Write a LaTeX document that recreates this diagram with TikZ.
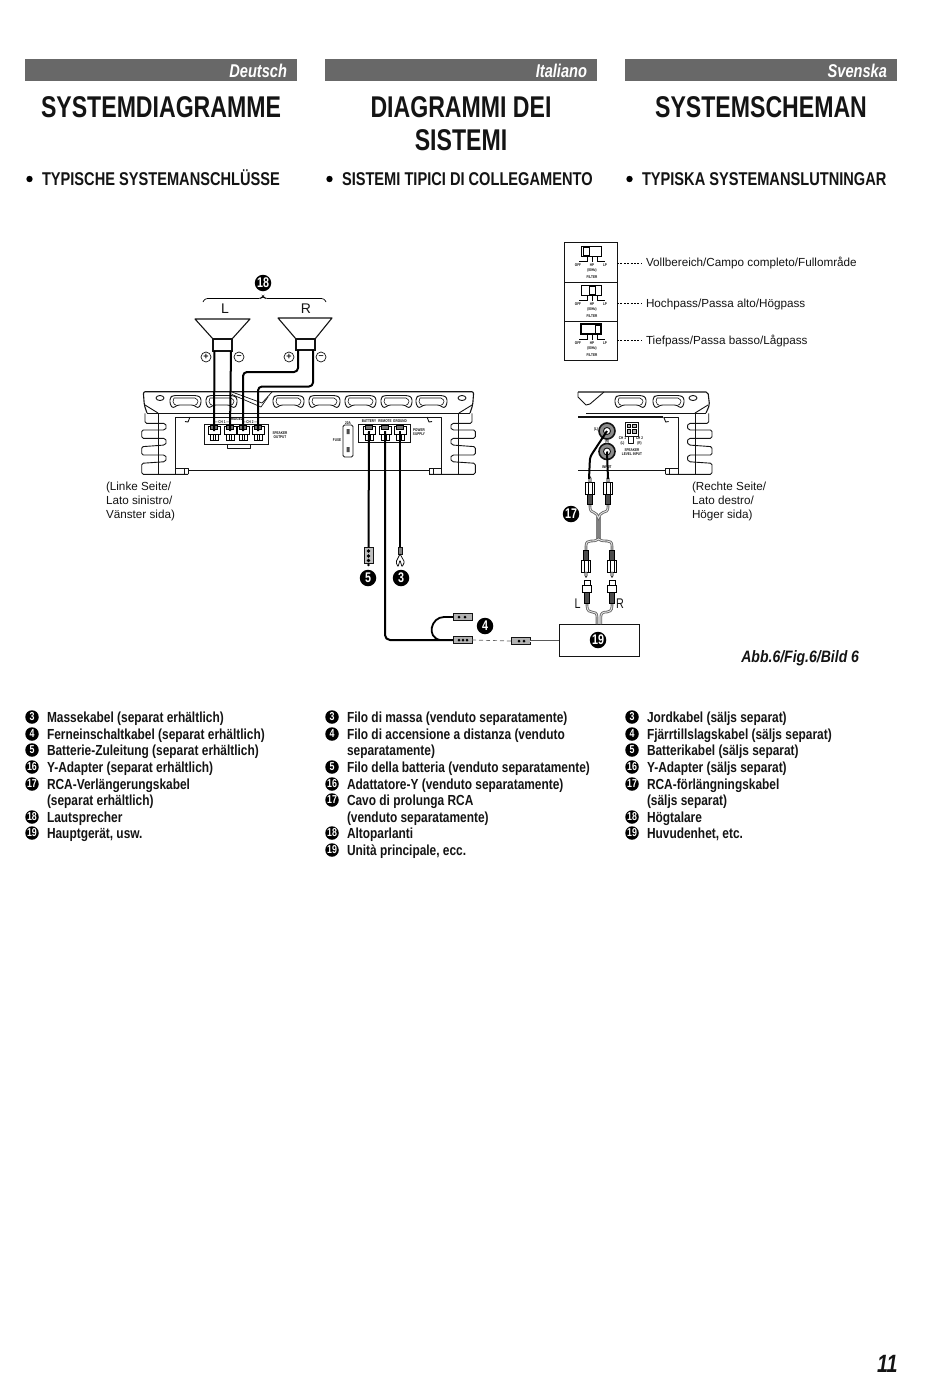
\documentclass[tikz,border=0pt]{standalone}
\usepackage{fontspec}
\setmainfont{Liberation Sans}
\newfontfamily\cond[FakeStretch=0.77]{Liberation Sans}
\newfontfamily\condb[FakeStretch=0.79]{Liberation Sans}
\newfontfamily\condc[FakeStretch=0.816]{Liberation Sans}
\newfontfamily\condd[FakeStretch=0.85]{Liberation Sans}
\usetikzlibrary{calc}
\definecolor{hdr}{RGB}{104,104,104}
\definecolor{ink}{RGB}{20,20,20}
\tikzset{
 x=1pt,y=-1pt,
 every node/.style={inner sep=0pt,outer sep=0pt,text=ink},
 hdrbar/.style={fill=hdr,draw=none,minimum width=272pt,minimum height=22pt},
 hdrtext/.style={text=white,font=\condb\bfseries\itshape\fontsize{18.5}{18.5}\selectfont,anchor=east},
 title/.style={font=\cond\bfseries\fontsize{30}{33}\selectfont,align=center,anchor=north},
 sub/.style={font=\condb\bfseries\fontsize{18.5}{18.5}\selectfont,anchor=base west},
 leg/.style={font=\condc\bfseries\fontsize{14.6}{14.6}\selectfont,anchor=base west},
 lab/.style={font=\fontsize{11.7}{14}\selectfont,anchor=base west,align=left},
 labm/.style={font=\fontsize{11.7}{14}\selectfont,anchor=north west,align=left},
 num/.style={circle,fill=black,minimum size=16.5pt,text=white,font=\cond\bfseries\fontsize{14}{14}\selectfont},
 lnum/.style={circle,fill=black,minimum size=13.5pt,text=white,font=\cond\bfseries\fontsize{11.5}{11.5}\selectfont},
 tiny/.style={font=\cond\bfseries\fontsize{4}{4.4}\selectfont,align=center},
 amp/.style={draw=ink,line width=.9pt,line join=round},
 ampthick/.style={draw=ink,line width=1.6pt},
 cable/.style={draw=black,line width=2pt,line join=round},
 rca/.style={draw=black!60,line width=2.6pt},
 rcaw/.style={draw=white!90!black,line width=.9pt},
 sign/.style={circle,draw=ink,line width=.7pt,minimum size=10pt,font=\fontsize{9}{9}\selectfont\bfseries},
 leader/.style={dash pattern=on 2pt off 1.4pt,line width=.6pt},
 plugA/.pic={
   \draw[fill=black!70,line width=.5pt] (-2.4,0) rectangle (2.4,10);
   \draw[fill=white,line width=.9pt] (-4.2,10) rectangle (4.2,22);
   \draw[line width=.6pt] (-2,10) -- (-2,22) (2,10) -- (2,22);
   \draw[fill=black!25,line width=.5pt] (-1.2,22) -- (-1,26) -- (0,27.5) -- (1,26) -- (1.2,22) -- cycle;
 },
 plugB/.pic={
   \draw[fill=black!70,line width=.5pt] (-2.3,0) rectangle (2.3,11);
   \draw[fill=white,line width=.9pt] (-4.2,11) rectangle (4.2,18);
   \draw[fill=white,line width=.9pt] (-3,18) rectangle (3,23);
 },
 slot/.pic={
   \draw[amp,rounded corners=2.5pt] (0,2) -- (3,0) -- (27,0) -- (31,2) -- (31,9) -- (28,13) -- (24,9.5) -- (7,9.5) -- (3,13) -- (0,9) -- cycle;
   \draw[amp,line width=.6pt,rounded corners=2pt] (4,2.5) -- (27,2.5) -- (28.5,8) -- (25,9.5);
   \draw[amp,line width=.6pt,rounded corners=2pt] (4,2.5) -- (2.5,8) -- (6,9.5);
 },
 sink/.pic={
   \draw[amp,rounded corners=1.5pt] (10,28.3) -- (10,38.3) -- (30,38.3) -- (31.7,41.7) -- (30,45) -- (6.7,45) -- (6.7,53.3) -- (30,53.3) -- (31.7,56.7) -- (30,60) -- (6.7,61.7) -- (6.7,70) -- (30,70) -- (31.7,73.3) -- (30,76.7) -- (6.7,78.3) -- (6.7,89.3) -- (53,89.3);
   \draw[amp] (23.3,28.3) -- (23.3,89.3);
   \draw[amp] (55,32) -- (40.7,32) -- (40.7,89.3);
   \draw[amp] (55,32) -- (53,37) -- (50,36.5);
   \draw[amp] (40.7,83) -- (53,83) -- (53,89.3);
   \draw[amp] (49,83) -- (49,89.3);
 },
 term/.pic={
   \draw[fill=white,line width=.7pt] (-6,0) rectangle (6,8);
   \draw[fill=black!55,line width=.5pt] (-3.5,-1.5) rectangle (3.5,3);
   \draw[fill=white,line width=.7pt] (-4,8) rectangle (4,14);
   \draw[line width=.5pt] (-1,8) -- (-1,14) (1,8) -- (1,14);
 },
 filt/.pic={
   \draw[line width=1pt,fill=white] (0,0) rectangle (20,10);
   \draw[line width=.7pt] (-2,15.5) -- (6,15.5) -- (6,10) (11,10) -- (11,15.5) (16,10) -- (16,15.5) -- (24,15.5);
   \node[tiny] (f1) at (-3,19.5) {OFF};
   \node[tiny] (f2) at (11,19.5) {HP};
   \node[tiny] (f3) at (24,19.5) {LP};
   \node[tiny] (f4) at (11,24.5) {(80Hz)};
   \node[tiny] (f5) at (11,31) {FILTER};
 },
}
\newcommand{\legline}[3]{\node[lnum] (n#1-#2) at ($(#1+7,#2)$) {#3};}
\newcommand{\legtext}[3]{\node[leg] (t#1-#2) at ($(#1+22,#2+5)$) {#3};}
\begin{document}
\begin{tikzpicture}
\useasboundingbox (0,0) rectangle (950,1373);
\fill[white] (0,0) rectangle (950,1373);
% headers
\foreach \c/\h/\n in {25/Deutsch/a,325/Italiano/b,625/Svenska/c}{
  \node[hdrbar,anchor=north west] (bar\n) at (\c,59) {};
  \node[hdrtext] (hd\n) at (\c+262,70.5) {\h};
}
\node[title] (ta) at (161,96.5) {SYSTEMDIAGRAMME};
\node[title] (tb) at (461,96.5) {DIAGRAMMI DEI\\SISTEMI};
\node[title] (tc) at (761,96.5) {SYSTEMSCHEMAN};
\foreach \c/\t/\n in {25/TYPISCHE SYSTEMANSCHLÜSSE/a,325/SISTEMI TIPICI DI COLLEGAMENTO/b,625/TYPISKA SYSTEMANSLUTNINGAR/c}{
  \fill[black] (\c+4.5,179) circle (3.2);
  \node[sub] (sb\n) at (\c+17,185.5) {\t};
}
% filter panels
\node[draw=ink,line width=1pt,minimum width=53pt,minimum height=40pt,anchor=north west] (fa) at (564,242) {};
\node[draw=ink,line width=1pt,minimum width=53pt,minimum height=39pt,anchor=north west] (fb) at (564,282) {};
\node[draw=ink,line width=1pt,minimum width=53pt,minimum height=39pt,anchor=north west] (fc) at (564,321) {};
\pic at (581,246) {filt};
\draw[line width=.8pt] (583,247.5) rectangle (589,255);
\pic at (581,285) {filt};
\draw[line width=.8pt] (589,286.5) rectangle (595,294);
\pic at (581,324) {filt};
\draw[line width=1.3pt] (581,324) rectangle (601,334);
\draw[line width=.8pt] (595,325.5) rectangle (600,333);
\node[lab] (la) at (646,266) {Vollbereich/Campo completo/Fullområde};
\node[lab] (lb) at (646,307) {Hochpass/Passa alto/Högpass};
\node[lab] (lc) at (646,344) {Tiefpass/Passa basso/Lågpass};
\coordinate (lda) at (642,263); \coordinate (ldb) at (642,303); \coordinate (ldc) at (642,340);
\draw[leader] (fa.east |- lda) -- (lda);
\draw[leader] (fb.east |- ldb) -- (ldb);
\draw[leader] (fc.east |- ldc) -- (ldc);
% left amplifier
\draw[amp,line width=1.1pt,rounded corners=2pt] (147,413) -- (144.3,405) -- (143.3,391.7) -- (473.7,391.7) -- (472.7,405) -- (470,413);
\draw[amp] (147,413) -- (470,413);
\draw[amp] (145,405) -- (158,413) (472,405) -- (459,413);
\draw[amp] (190,417) -- (427,417);
\draw[ampthick] (188,470.5) -- (429,470.5);
\pic at (135,385) {sink};
\pic[xscale=-1] at (482,385) {sink};
\draw[amp] (160,398) ellipse (4 and 2.5);
\draw[amp] (462,398) ellipse (4 and 2.5);
\foreach \sx in {170,206,273,309,345,381,416}{\pic at (\sx,395.5) {slot};}
\draw[amp,line width=.7pt] (232,392) -- (262,403) -- (272,392);
\draw[amp,line width=.7pt] (232,394.5) -- (261,407) -- (268,397);
% speaker output block
\node[draw=ink,line width=1pt,minimum width=64pt,minimum height=20pt,anchor=north west] (spkblk) at (204,424) {};
\draw[amp] (227,444) -- (227,448) -- (250,448) -- (250,444);
\foreach \tx/\nm in {214/t1,230/t2,243/t3,258/t4}{\pic at (\tx,426.5) {term}; \coordinate (\nm) at (\tx,431);}
\node[tiny] (so) at (280,435) {SPEAKER\\OUTPUT};
\node[tiny] (c1) at (222,422) {— CH 1 —};
\node[tiny] (c2) at (250,422) {— CH 2 —};
\node[tiny] (br) at (236,419.5) {BRIDGED};
% fuse
\node[draw=ink,line width=.8pt,rounded corners=1.5pt,minimum width=10pt,minimum height=32pt,anchor=north west] (fuse) at (343,425) {};
\fill[black!70] (346.5,429) rectangle (349.5,434) (346.5,447) rectangle (349.5,452);
\node[tiny] (fa20) at (348,423) {20A};
\node[tiny] (fz) at (337,440) {FUSE};
% power block
\node[draw=ink,line width=1pt,minimum width=52pt,minimum height=18pt,anchor=north west] (pwr) at (358,424) {};
\foreach \tx/\nm in {369/p1,385/p2,400/p3}{\pic at (\tx,426.5) {term}; \coordinate (\nm) at (\tx,431);}
\node[tiny] (pb) at (369,421) {BATTERY};
\node[tiny] (pr) at (385,421) {REMOTE};
\node[tiny] (pg) at (400,421) {GROUND};
\node[tiny] (ps) at (419,432) {POWER\\SUPPLY};
% right amplifier
\draw[amp,line width=1.1pt,rounded corners=2pt] (578,392) -- (708,392) -- (709.5,405) -- (706,413);
\draw[amp] (578,392) -- (578,397) -- (586,405) -- (590,404) -- (604,392);
\draw[amp] (586,413) -- (706,413);
\draw[amp] (708,405) -- (695,413);
\draw[ampthick] (578,417) -- (663,417);
\draw[ampthick] (578,470.5) -- (665,470.5);
\pic[xscale=-1] at (718.7,385) {sink};
\draw[amp] (693,398) ellipse (4 and 2.5);
\foreach \sx in {615,653}{\pic at (\sx,395.5) {slot};}
\node[circle,draw=ink,fill=black!45,line width=1.6pt,minimum size=16pt] (j1) at (607,431) {};
\node[circle,draw=ink,fill=white,line width=.9pt,minimum size=7pt] (j1i) at (607,431) {};
\node[circle,draw=ink,fill=black!45,line width=1.6pt,minimum size=16pt] (j2) at (607,451.5) {};
\node[circle,draw=ink,fill=white,line width=.9pt,minimum size=7pt] (j2i) at (607,451.5) {};
\node[draw=ink,line width=1pt,minimum width=13.5pt,minimum height=14pt,anchor=north west] (lvl) at (625,422) {};
\foreach \px in {627,632.5}{\foreach \py in {424,429.5}{\draw[line width=.7pt,fill=black!30] (\px,\py) rectangle +(3.8,3.8);}}
\draw[amp,line width=.6pt] (628,436) rectangle (633.5,443);
\node[tiny] (ci1) at (622.5,441) {CH 1\\(L)};
\node[tiny] (ci2) at (639.5,441) {CH 2\\(R)};
\node[tiny] (sli) at (632,452) {SPEAKER\\LEVEL INPUT};
\node[tiny] (ipt) at (607,467) {INPUT};
\node[tiny] (jl) at (596,429) {(L)};
\node[tiny] (jr) at (607,441.5) {(R)};
% speakers
\draw[amp,line width=1.1pt,fill=white] (195,319) -- (250,319) -- (232,339) -- (213,339) -- cycle;
\node[draw=ink,line width=1.1pt,minimum width=19pt,minimum height=12pt,anchor=north west] (spl) at (213,339) {};
\draw[amp,line width=1.1pt,fill=white] (278,318) -- (332,318) -- (315,339) -- (296,339) -- cycle;
\node[draw=ink,line width=1.1pt,minimum width=19pt,minimum height=11pt,anchor=north west] (spr) at (296,339) {};
\node[font=\fontsize{14}{14}\selectfont] (tl) at (225,309) {L};
\node[font=\fontsize{14}{14}\selectfont] (tr) at (306,309) {R};
\draw[line width=.7pt,rounded corners=2.5pt] (203,302) -- (205,298.5) -- (261,298.5) -- (263,296) -- (265,298.5) -- (324,298.5) -- (326,302);
\node[num] (n18) at (263,283) {18};
\node[sign] (lp) at (206,357) {+};
\node[sign] (lm) at (239,357) {–};
\node[sign] (rp) at (289,357) {+};
\node[sign] (rm) at (321,357) {–};
% speaker cables
\coordinate (spl1) at (214.5,351); \coordinate (spl2) at (231,351);
\coordinate (spr1) at (298,350); \coordinate (spr2) at (313,350);
\draw[cable] (spl1) -- (t1);
\draw[cable] (spl2) -- (t2);
\draw[cable,rounded corners=4pt] (spr1) -- (298,372) -- (243,372) -- (t3);
\draw[cable,rounded corners=4pt] (spr2) -- (313,386.5) -- (258,386.5) -- (t4);
% power cables
\node[draw=ink,fill=black!25,line width=.7pt,minimum width=9pt,minimum height=16pt,anchor=north] (c5) at (368.5,547) {};
\fill[black] (368.5,551) circle (1.8) (368.5,556) circle (1.8) (368.5,560.5) circle (1.8) (368.5,565) circle (1.4);
\draw[cable] (p1) -- (c5.north);
\node[draw=ink,fill=black!50,line width=.6pt,minimum width=4pt,minimum height=7pt,anchor=north] (c3) at (400,547) {};
\draw[line width=.7pt,rounded corners=1pt] (400,554) -- (396,562) -- (398,567) -- (400,560) -- (402,567) -- (404.5,562) -- (400,554);
\draw[cable] (p3) -- (c3.north);
\node[num] (n5) at (368,578) {5};
\node[num] (n3) at (401,578) {3};
% remote
\node[draw=ink,fill=black!30,line width=.7pt,minimum width=19pt,minimum height=7pt,anchor=west] (c4a) at (453,617) {};
\node[draw=ink,fill=black!30,line width=.7pt,minimum width=19pt,minimum height=7pt,anchor=west] (c4b) at (453,640) {};
\fill[black] (459,617) circle (1.5) (465,617) circle (1.5) (459,640) circle (1.5) (463,640) circle (1.5) (467,640) circle (1.5);
\draw[cable,rounded corners=5pt] (p2) -- (385,640) -- (c4b.west);
\draw[line width=1.8pt] (c4a.west) -- (444,617) .. controls (431,617) and (426,637) .. (440,640);
\node[num] (n4) at (485,626) {4};
\node[draw=ink,fill=black!30,line width=.7pt,minimum width=19pt,minimum height=7pt,anchor=west] (c4c) at (511,641) {};
\fill[black] (519,641) circle (1.5) (524,641) circle (1.5);
\draw[dash pattern=on 4pt off 3pt,line width=.7pt,draw=black!60] (c4b.east) -- (c4c.west);
% head unit
\node[draw=ink,line width=1pt,minimum width=80pt,minimum height=32pt,anchor=north west] (hu) at (559,624) {};
\node[num] (n19) at (598,640) {19};
\draw[black!65,line width=2.2pt] (c4c.east) -- (hu.west |- c4c);
\draw[white,line width=.8pt] (c4c.east) -- (hu.west |- c4c);
% RCA cables
\coordinate (m1) at (587,603); \coordinate (m2) at (612,603);
\foreach \s in {rca,rcaw}{
\draw[\s] (m1) -- (587,606) .. controls (587,611) and (590,612) .. (592,612) .. controls (595,612) and (597,613) .. (597,617) -- (597,624);
\draw[\s] (m2) -- (612,606) .. controls (612,611) and (609,612) .. (607,612) .. controls (603,612) and (600.8,613) .. (600.8,617) -- (600.8,624);
}
\pic[yscale=-1] at (m1) {plugB};
\pic[yscale=-1] at (m2) {plugB};
\node[font=\cond\fontsize{14}{14}\selectfont] (tl2) at (577.5,604) {L};
\node[font=\cond\fontsize{14}{14}\selectfont] (tr2) at (620,604) {R};
\coordinate (u1) at (586,550); \coordinate (u2) at (612,550);
\coordinate (v1) at (590,504); \coordinate (v2) at (608,504);
\draw[black!50,line width=5.5pt] (598.5,517) -- (598.5,539);
\foreach \s in {rca,rcaw}{
\draw[\s] (u1) -- (586,546) .. controls (586,542) and (588,541) .. (591,541) .. controls (595,541) and (597,540.5) .. (598.5,539) .. controls (600,540.5) and (602,541) .. (607,541) .. controls (610,541) and (612,542) .. (612,546) -- (u2);
\draw[\s] (v1) -- (590,507) .. controls (590,511) and (592,512) .. (594,512.5) .. controls (596,513) and (597.5,515) .. (598.5,518) .. controls (599.5,515) and (601,513) .. (603,512.5) .. controls (606,512) and (608,511) .. (608,507) -- (v2);
}
\pic at (u1) {plugA};
\pic at (u2) {plugA};
\pic[yscale=-1] at (v1) {plugA};
\pic[yscale=-1] at (v2) {plugA};
\draw[cable,rounded corners=3pt] (589,479) -- (590,457) -- (j1i.center);
\draw[cable] (608,479) -- (j2i.center);
\node[num] (n17) at (571,514) {17};
\node[labm] (ll) at (106,482.5) {(Linke Seite/\\Lato sinistro/\\Vänster sida)};
\node[labm] (lr) at (692,482.5) {(Rechte Seite/\\Lato destro/\\Höger sida)};
\node[font=\condd\bfseries\itshape\fontsize{16.5}{16.5}\selectfont,anchor=base east] (abb) at (859,662.5) {Abb.6/Fig.6/Bild 6};
% legends
\legline{25}{717}{3}\legtext{25}{717}{Massekabel (separat erhältlich)}
\legline{25}{734}{4}\legtext{25}{734}{Ferneinschaltkabel (separat erhältlich)}
\legline{25}{750}{5}\legtext{25}{750}{Batterie-Zuleitung (separat erhältlich)}
\legline{25}{767}{16}\legtext{25}{767}{Y-Adapter (separat erhältlich)}
\legline{25}{784}{17}\legtext{25}{784}{RCA-Verlängerungskabel}
\legtext{25}{800}{(separat erhältlich)}
\legline{25}{817}{18}\legtext{25}{817}{Lautsprecher}
\legline{25}{833}{19}\legtext{25}{833}{Hauptgerät, usw.}
\legline{325}{717}{3}\legtext{325}{717}{Filo di massa (venduto separatamente)}
\legline{325}{734}{4}\legtext{325}{734}{Filo di accensione a distanza (venduto}
\legtext{325}{750}{separatamente)}
\legline{325}{767}{5}\legtext{325}{767}{Filo della batteria (venduto separatamente)}
\legline{325}{784}{16}\legtext{325}{784}{Adattatore-Y (venduto separatamente)}
\legline{325}{800}{17}\legtext{325}{800}{Cavo di prolunga RCA}
\legtext{325}{817}{(venduto separatamente)}
\legline{325}{833}{18}\legtext{325}{833}{Altoparlanti}
\legline{325}{850}{19}\legtext{325}{850}{Unità principale, ecc.}
\legline{625}{717}{3}\legtext{625}{717}{Jordkabel (säljs separat)}
\legline{625}{734}{4}\legtext{625}{734}{Fjärrtillslagskabel (säljs separat)}
\legline{625}{750}{5}\legtext{625}{750}{Batterikabel (säljs separat)}
\legline{625}{767}{16}\legtext{625}{767}{Y-Adapter (säljs separat)}
\legline{625}{784}{17}\legtext{625}{784}{RCA-förlängningskabel}
\legtext{625}{800}{(säljs separat)}
\legline{625}{817}{18}\legtext{625}{817}{Högtalare}
\legline{625}{833}{19}\legtext{625}{833}{Huvudenhet, etc.}
\node[font=\condb\bfseries\itshape\fontsize{25}{25}\selectfont,anchor=east] (pg11) at (897.5,1364) {11};
\end{tikzpicture}
\end{document}
